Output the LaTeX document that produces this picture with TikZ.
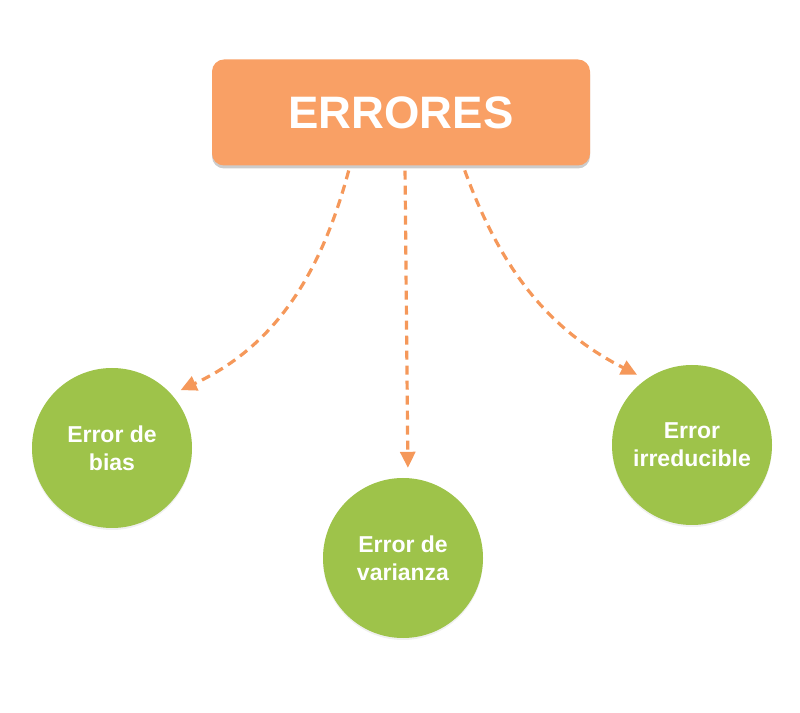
\documentclass[tikz,border=0pt]{standalone}
\usepackage{fontspec}
\setmainfont{Liberation Sans}
\usetikzlibrary{arrows.meta,shadows}
\definecolor{boxorange}{RGB}{249,160,101}
\definecolor{arroworange}{RGB}{245,152,90}
\definecolor{circgreen}{RGB}{158,195,74}
\begin{document}
\begin{tikzpicture}[x=1pt,y=1pt,
errbox/.style={rectangle, rounded corners=12pt, fill=boxorange, text=white, minimum width=378pt, minimum height=106pt, font=\fontsize{45.5}{54}\selectfont\bfseries, drop shadow={shadow xshift=0pt, shadow yshift=-3pt, opacity=0.4}},
errcirc/.style={circle, fill=circgreen, text=white, minimum size=160pt, inner sep=0pt, align=center, font=\fontsize{23}{28}\selectfont\bfseries, drop shadow={shadow xshift=0pt, shadow yshift=-2pt, opacity=0.12}},
errarrow/.style={arroworange, line width=3.2pt, dash pattern=on 9pt off 6pt, -{Triangle[length=16pt,width=15pt]}, shorten <=5pt, shorten >=10pt}]
\useasboundingbox (0,0) rectangle (800,712);
\node[errbox] (err0) at (401,599.5){ERRORES};
\node[errcirc] (err1) at (112,264){Error de\\bias};
\node[errcirc] (err2) at (403,154){Error de\\varianza};
\node[errcirc] (err3) at (692,267){Error\\irreducible};
\draw[errarrow] ([xshift=-51pt]err0.south) to[out=-105,in=25] (err1.42);
\draw[errarrow] ([xshift=4pt]err0.south) -- ([xshift=5pt]err2.north);
\draw[errarrow] ([xshift=62pt]err0.south) to[out=-70,in=153] (err3.125);
\end{tikzpicture}
\end{document}
